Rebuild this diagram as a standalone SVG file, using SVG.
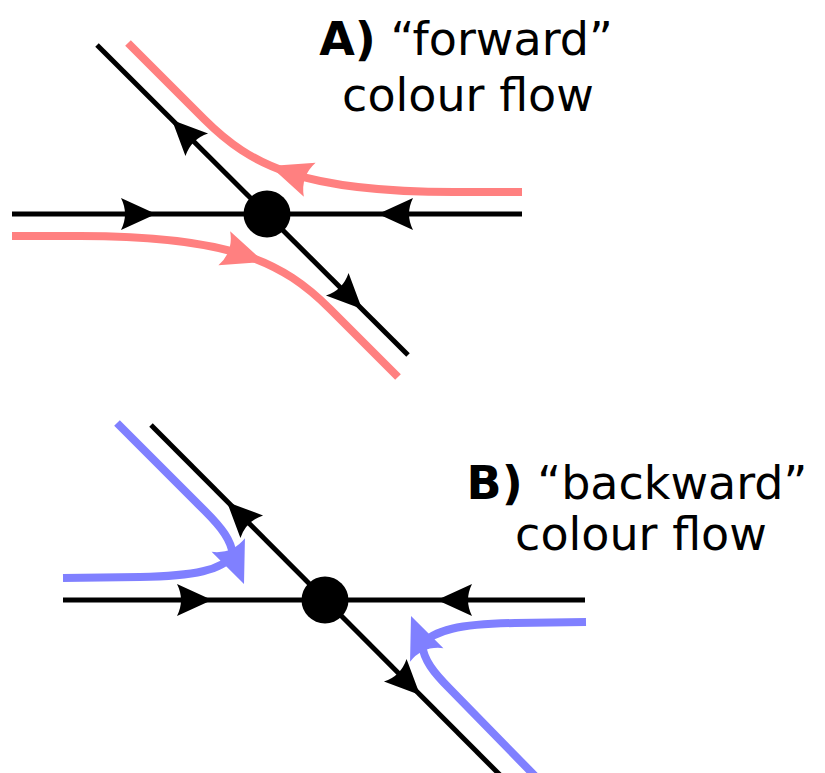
<svg xmlns="http://www.w3.org/2000/svg" width="825" height="773" viewBox="0 0 825 773">
  <style>
    .fl { fill: none; stroke: #000; stroke-width: 5; }
    .pk { fill: none; stroke: #ff8080; stroke-width: 8; }
    .bl { fill: none; stroke: #8080ff; stroke-width: 8; }
    .lbl { font-family: "DejaVu Sans", Verdana, sans-serif; font-size: 46px; fill: #000; text-anchor: middle; }
    .b { font-weight: bold; }
  </style>
  <defs>
    <path id="ah" d="M0,0 L-35,-16 Q-27,0 -35,16 Z" fill="#000"/>
    <path id="ahp" d="M0,0 L-42,-18 Q-32,0 -42,18 Z" fill="#ff8080"/>
    <path id="ahb" d="M0,0 L-42,-18 Q-32,0 -42,18 Z" fill="#8080ff"/>
  </defs>

  <g id="connectors">
    <!-- Panel A -->
    <line class="fl" x1="12" y1="214" x2="522" y2="214"/>
    <line class="fl" x1="97" y1="45" x2="408" y2="355"/>
    <use href="#ah" transform="translate(156,214)"/>
    <use href="#ah" transform="translate(378,214) rotate(180)"/>
    <use href="#ah" transform="translate(172,120) rotate(225)"/>
    <use href="#ah" transform="translate(362,309) rotate(45)"/>
    <path class="pk" d="M12,236 L80,236 C231,236 283,262 330,309 L398,377"/>
    <use href="#ahp" transform="translate(264,262) rotate(19)"/>
    <path class="pk" d="M522,192 L454,192 C303,192 251,166 204,119 L128,43"/>
    <use href="#ahp" transform="translate(270,166) rotate(199)"/>

    <!-- Panel B -->
    <line class="fl" x1="63" y1="600" x2="585" y2="600"/>
    <line class="fl" x1="151" y1="425" x2="501" y2="776"/>
    <use href="#ah" transform="translate(212,600)"/>
    <use href="#ah" transform="translate(437,600) rotate(180)"/>
    <use href="#ah" transform="translate(227,502) rotate(225)"/>
    <use href="#ah" transform="translate(420,695) rotate(45)"/>
    <path class="bl" d="M117,423 L205,511 C222,528 231,540 233,555"/>
    <path class="bl" d="M63,578 L140,577 C195,576 222,570 233,555"/>
    <use href="#ahb" transform="translate(244,584) rotate(68)"/>
    <path class="bl" d="M536,777 L450,689 C433,672 424,660 422,645"/>
    <path class="bl" d="M586,622 L515,623 C460,624 433,630 422,645"/>
    <use href="#ahb" transform="translate(411,616) rotate(248)"/>
  </g>

  <g id="vertexA">
    <circle cx="267" cy="214" r="23.5" fill="#000"/>
  </g>
  <g id="vertexB">
    <circle cx="325" cy="600" r="23.5" fill="#000"/>
  </g>

  <g id="labelA">
    <text class="lbl" x="466" y="55"><tspan class="b">A)</tspan> “forward”</text>
    <text class="lbl" x="468" y="111">colour flow</text>
  </g>
  <g id="labelB">
    <text class="lbl" x="637" y="499"><tspan class="b">B)</tspan> “backward”</text>
    <text class="lbl" x="641" y="550">colour flow</text>
  </g>
</svg>
